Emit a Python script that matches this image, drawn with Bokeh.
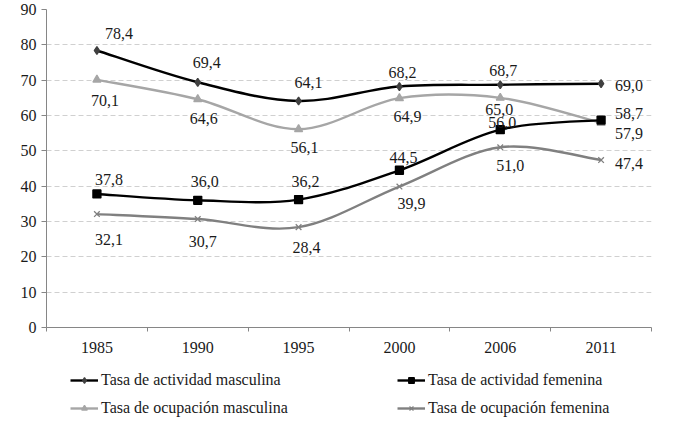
from bokeh.plotting import figure
from bokeh.models import (ColumnDataSource, Range1d, FixedTicker, Legend, LegendItem)
from bokeh.layouts import column
from bokeh.core.properties import value
from bokeh.embed import file_html
from bokeh.resources import INLINE

# ---- data ----
years = ["1985", "1990", "1995", "2000", "2006", "2011"]
act_masc = [78.4, 69.4, 64.1, 68.2, 68.7, 69.0]
ocu_masc = [70.1, 64.6, 56.1, 64.9, 65.0, 57.9]
act_fem = [37.8, 36.0, 36.2, 44.5, 56.0, 58.7]
ocu_fem = [32.1, 30.7, 28.4, 39.9, 51.0, 47.4]
series_names = ["Tasa de actividad masculina", "Tasa de ocupación masculina",
                "Tasa de actividad femenina", "Tasa de ocupación femenina"]
y_ticks = [0, 10, 20, 30, 40, 50, 60, 70, 80, 90]

# ---- styles (label offsets in screen px) ----
label_dx = [
    [22, 9, 10, 3, 3, 28],
    [8, 6, 6, 8, -1, 28],
    [12, 7, 7, 4, 2, 28],
    [12, 5, 8, 12, 10, 28],
]
label_dy = [
    [-17, -20, -19, -14, -14, 2],
    [21, 19, 18, 18, 12, 11],
    [-14, -19, -18, -13, -7, -7],
    [25, 22, 20, 17, 18, 3],
]
line_colors = ["#000000", "#a6a6a6", "#000000", "#808080"]
marker_colors = ["#404040", "#a6a6a6", "#000000", "#808080"]
markers = ["diamond", "triangle", "square", "x"]
marker_sizes = [8, 8, 8, 8]
FONT = "Liberation Serif"
TXT = "#1a1a1a"

p = figure(width=663, height=362, output_backend="svg", toolbar_location=None,
           x_range=Range1d(0, len(years)), y_range=Range1d(0, 90),
           min_border_left=46, min_border_right=12, min_border_top=9,
           min_border_bottom=35)
p.outline_line_color = None
p.background_fill_color = "white"
p.border_fill_color = "white"

xs = [i + 0.5 for i in range(len(years))]


def bezier_source(ys):
    n = len(ys)
    d = dict(x0=[], y0=[], x1=[], y1=[], cx0=[], cy0=[], cx1=[], cy1=[])
    for i in range(n - 1):
        im = max(i - 1, 0)
        ip2 = min(i + 2, n - 1)
        d["x0"].append(xs[i]); d["y0"].append(ys[i])
        d["x1"].append(xs[i + 1]); d["y1"].append(ys[i + 1])
        d["cx0"].append(xs[i] + (xs[i + 1] - xs[im]) / 6)
        d["cy0"].append(ys[i] + (ys[i + 1] - ys[im]) / 6)
        d["cx1"].append(xs[i + 1] - (xs[ip2] - xs[i]) / 6)
        d["cy1"].append(ys[i + 1] - (ys[ip2] - ys[i]) / 6)
    return ColumnDataSource(d)


all_series = [act_masc, ocu_masc, act_fem, ocu_fem]
for k, ys in enumerate(all_series):
    p.bezier(x0="x0", y0="y0", x1="x1", y1="y1", cx0="cx0", cy0="cy0",
             cx1="cx1", cy1="cy1", source=bezier_source(ys),
             line_color=line_colors[k], line_width=2.4)
    p.scatter(xs, ys, marker=markers[k], size=marker_sizes[k],
              fill_color=marker_colors[k], line_color=marker_colors[k],
              line_width=1.3)
    labels = [f"{v:.1f}".replace(".", ",") for v in ys]
    p.text(xs, ys, text=labels, x_offset=label_dx[k], y_offset=label_dy[k],
           text_font=value(FONT), text_font_size="16px", text_color=TXT,
           text_align="center", text_baseline="middle")

# axes
p.yaxis.ticker = FixedTicker(ticks=y_ticks)
p.yaxis.axis_line_color = "#868686"
p.yaxis.major_tick_line_color = "#868686"
p.yaxis.major_tick_out = 5
p.yaxis.major_tick_in = 0
p.yaxis.minor_tick_line_color = None
p.yaxis.major_label_text_font = FONT
p.yaxis.major_label_text_font_size = "16px"
p.yaxis.major_label_text_color = TXT
p.yaxis.major_label_standoff = 5

p.xaxis.ticker = FixedTicker(ticks=xs, minor_ticks=list(range(len(years) + 1)))
p.xaxis.major_label_overrides = {x: y for x, y in zip(xs, years)}
p.xaxis.axis_line_color = "#868686"
p.xaxis.major_tick_line_color = None
p.xaxis.major_tick_out = 0
p.xaxis.major_tick_in = 0
p.xaxis.minor_tick_line_color = "#868686"
p.xaxis.minor_tick_out = 4
p.xaxis.minor_tick_in = 0
p.xaxis.major_label_text_font = FONT
p.xaxis.major_label_text_font_size = "16px"
p.xaxis.major_label_text_color = TXT
p.xaxis.major_label_standoff = 10

p.xgrid.grid_line_color = None
p.ygrid.grid_line_color = "#d0d0d0"
p.ygrid.grid_line_dash = "5 3"
p.ygrid.grid_line_width = 1

# ---- legend figure (frame aligned with the chart's frame) ----
q = figure(width=663, height=55, output_backend="svg", toolbar_location=None,
           x_range=Range1d(0, 1), y_range=Range1d(0, 1),
           x_axis_type=None, y_axis_type=None,
           min_border_left=46, min_border_right=12, min_border_top=0,
           min_border_bottom=0)
q.outline_line_color = None
q.xgrid.grid_line_color = None
q.ygrid.grid_line_color = None

items = []
for k in range(4):
    # placeholder renderers outside the visible range, only for legend swatches
    lr = q.line([-5, -4], [-5, -5], line_color=line_colors[k], line_width=2.4)
    mr = q.scatter([-5], [-5], marker=markers[k], size=marker_sizes[k],
                   fill_color=marker_colors[k], line_color=marker_colors[k],
                   line_width=1.3)
    items.append(LegendItem(label=series_names[k], renderers=[lr, mr]))

for its, xloc in (([items[0], items[1]], 24), ([items[2], items[3]], 351)):
    lg = Legend(items=its, location=(xloc, 0), orientation="vertical",
                padding=0, margin=0, spacing=10, glyph_width=28, glyph_height=14,
                label_height=16, label_standoff=3, border_line_color=None,
                background_fill_alpha=0, label_text_font=FONT,
                label_text_font_size="16px", label_text_color=TXT)
    q.add_layout(lg, "center")

layout = column(p, q, spacing=0)
open("out.html", "w").write(file_html(layout, INLINE))
